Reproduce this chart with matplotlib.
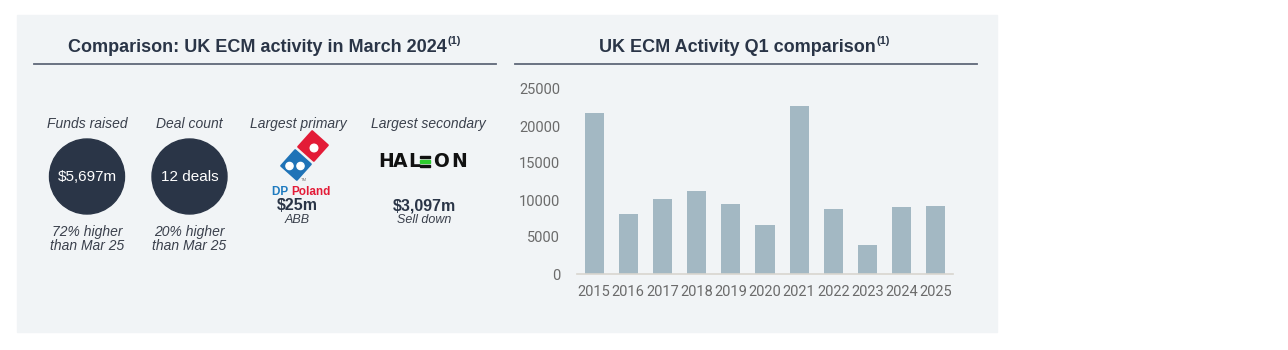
import numpy as np
import matplotlib
matplotlib.use("Agg")
import matplotlib.pyplot as plt
from matplotlib.patches import Rectangle, Circle, Polygon

plt.rcParams['font.family'] = ['Liberation Sans', 'DejaVu Sans']

# data
years = ['2015', '2016', '2017', '2018', '2019', '2020', '2021', '2022', '2023', '2024', '2025']
q1_values = [21700, 8100, 10100, 11260, 9400, 6600, 22650, 8800, 3960, 9050, 9200]
yticks = [0, 5000, 10000, 15000, 20000, 25000]

kpi_heads = ['Funds raised', 'Deal count']
kpi_values = ['$5,697m', '12 deals']
kpi_notes = ['72% higher\nthan Mar 25', '20% higher\nthan Mar 25']

navy = '#2a3547'
txt = '#3a404c'
bar_col = '#a3b8c3'

fig = plt.figure(figsize=(12.88, 3.5), dpi=100)
fig.patch.set_facecolor('white')

# full-figure axes in pixel coords for the layout pieces
ax0 = fig.add_axes([0, 0, 1, 1])
ax0.set_xlim(0, 1288)
ax0.set_ylim(350, 0)
ax0.axis('off')

ax0.add_patch(Rectangle((17, 15), 980, 317, color='#f1f4f6', zorder=0))

# titles + underlines
t1 = ax0.text(257, 47, 'Comparison: UK ECM activity in March 2024', ha='center', va='center',
              fontsize=13, fontweight='bold', color=navy)
ax0.annotate('(1)', xy=(1, 1), xycoords=t1, xytext=(1, 1.5), textcoords='offset points',
             ha='left', va='top', fontsize=8, fontweight='bold', color=navy)
t2 = ax0.text(737, 47, 'UK ECM Activity Q1 comparison', ha='center', va='center',
              fontsize=13, fontweight='bold', color=navy)
ax0.annotate('(1)', xy=(1, 1), xycoords=t2, xytext=(1, 1.5), textcoords='offset points',
             ha='left', va='top', fontsize=8, fontweight='bold', color=navy)
ax0.plot([34, 496], [63.5, 63.5], color='#5f6878', lw=1.3)
ax0.plot([515, 977], [63.5, 63.5], color='#5f6878', lw=1.3)

# KPI circles
for i, cx in enumerate([87, 189.5]):
    ax0.text(cx, 124, kpi_heads[i], ha='center', va='center', fontsize=10, style='italic', color=txt)
    ax0.add_patch(Circle((cx, 176.5), 37.5, color=navy, zorder=2))
    ax0.text(cx, 177, kpi_values[i], ha='center', va='center', fontsize=11, color='white', zorder=3)
    ax0.text(cx, 239, kpi_notes[i], ha='center', va='center', fontsize=10, style='italic',
             color=txt, linespacing=1.0)

# Largest primary - Domino's style logo
ax0.text(298, 124, 'Largest primary', ha='center', va='center', fontsize=10, style='italic', color=txt)
u = np.array([17.0, -19.0])
u = u / np.linalg.norm(u)
v = np.array([-u[1], u[0]])
a = 10.5
for c, col in [((313, 146), '#e31b37'), ((296, 165), '#1f73b7')]:
    c = np.array(c)
    pts = [c + a * u + a * v, c + a * u - a * v, c - a * u - a * v, c - a * u + a * v]
    ax0.add_patch(Polygon(pts, closed=True, facecolor=col, edgecolor=col, lw=1.5,
                          joinstyle='round', zorder=2))
ax0.add_patch(Circle((314, 148), 3.8, color='white', zorder=3))
ax0.add_patch(Circle((289.5, 166), 3.6, color='white', zorder=3))
ax0.add_patch(Circle((300.5, 166), 3.6, color='white', zorder=3))
ax0.text(304, 180, 'TM', fontsize=3, color='#777777', ha='center', va='center')
ax0.text(291, 192, 'DP ', ha='right', va='center', fontsize=8.5, fontweight='bold', color='#1f7bc0')
ax0.text(291, 192, 'Poland', ha='left', va='center', fontsize=8.5, fontweight='bold', color='#e31b37')
ax0.text(297, 206, '$25m', ha='center', va='center', fontsize=11.5, fontweight='bold', color=navy)
ax0.text(297, 220, 'ABB', ha='center', va='center', fontsize=9, style='italic', color=txt)

# Largest secondary - HALEON
ax0.text(428, 124, 'Largest secondary', ha='center', va='center', fontsize=10, style='italic', color=txt)
for ch, lx in [('H', 386), ('A', 400), ('L', 414), ('O', 441.5), ('N', 459)]:
    ax0.text(lx, 161.5, ch, ha='center', va='center', fontsize=13.5, fontweight='bold',
             color='#111111', family='DejaVu Sans')
ax0.add_patch(Rectangle((420, 155.5), 10, 2.4, color='#111111'))
ax0.add_patch(Rectangle((420, 160.2), 10, 2.4, color='#2ecc2e'))
ax0.add_patch(Rectangle((420, 164.9), 10, 2.4, color='#111111'))
ax0.text(424, 206, '$3,097m', ha='center', va='center', fontsize=11.5, fontweight='bold', color=navy)
ax0.text(424, 220, 'Sell down', ha='center', va='center', fontsize=9, style='italic', color=txt)

# bar chart
ax = fig.add_axes([577 / 1288, 76 / 350, 376 / 1288, 185 / 350])
ax.patch.set_alpha(0)
x = np.arange(len(years))
ax.bar(x, q1_values, width=0.56, color=bar_col)
ax.set_xlim(-0.5, len(years) - 0.5)
ax.set_ylim(0, 25000)
ax.set_xticks(x)
ax.set_xticklabels(years)
ax.set_yticks(yticks)
ax.set_yticklabels([str(t) for t in yticks])
for s in ['top', 'right', 'left']:
    ax.spines[s].set_visible(False)
ax.spines['bottom'].set_color('#d8d5cf')
ax.spines['bottom'].set_linewidth(1.2)
ax.tick_params(axis='both', length=0, labelsize=10.5, labelcolor='#6b6b6b')
ax.tick_params(axis='x', pad=8)
ax.tick_params(axis='y', pad=12)
for lab in ax.get_xticklabels() + ax.get_yticklabels():
    lab.set_fontfamily(['Roboto', 'DejaVu Sans'])

fig.savefig('out.png', dpi=100, facecolor='white')
